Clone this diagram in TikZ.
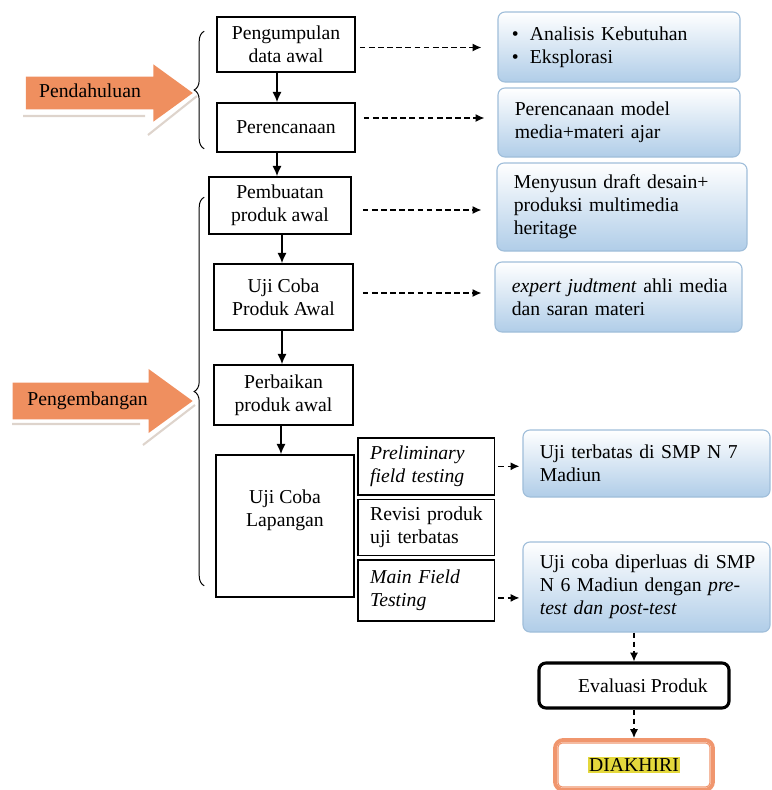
\documentclass[tikz,border=0pt]{standalone}
\usepackage{fontspec}
\setmainfont{Liberation Serif}
\usepackage{tikz}
\usetikzlibrary{calc,positioning,shapes.arrows}
\usetikzlibrary{decorations.pathreplacing}
\usetikzlibrary{arrows.meta}
\definecolor{arroworange}{RGB}{239,143,95}
\definecolor{shadowgrey}{RGB}{222,212,204}
\definecolor{boxblue}{RGB}{176,205,232}
\definecolor{boxedge}{RGB}{160,190,218}
\definecolor{endorange}{RGB}{240,150,110}
\definecolor{hlyellow}{RGB}{228,216,60}
\tikzstyle{every node}=[line width=1.1pt]
\tikzset{>={Latex[width=2.3mm,length=2.6mm]}}
\tikzset{stepbox/.style = {draw, fill=white, rectangle, align=center,
                  minimum width=3.45cm},
        subbox/.style = {draw, fill=white, rectangle, align=left,
                  text width=2.8cm, inner xsep=0.31cm},
        notebox/.style = {draw=boxedge, line width=0.8pt, rounded corners=5pt, top color=white,
                  bottom color=boxblue, align=left, text width=5.21cm, inner xsep=0.42cm},
        dasharrow/.style = {->, dash pattern=on 4pt off 2.5pt, line width=0.9pt,
                  >={Latex[width=2mm,length=2.2mm]}}
    }

\begin{document}
\begin{tikzpicture}[x=0.025cm, y=-0.025cm, font=\fontsize{14}{16.4}\selectfont]
    \tikzstyle{bigarrow} = [single arrow, fill=arroworange, single arrow tip angle=72,
        text height=10pt, text depth=3pt, inner ysep=2.5pt, inner xsep=0pt]
    \tikzstyle{brace} = [decorate, decoration={brace, amplitude=0.25cm}, line width=0.7pt]
    \useasboundingbox (0,0) rectangle (771,790);

    % left column
    \node[stepbox, minimum height=1.375cm] (pengumpulan) at (286,44.5) {Pengumpulan\\data awal};
    \node[stepbox, minimum height=1.225cm] (perencanaan) at (286,127.5) {Perencanaan};
    \node[stepbox, minimum width=3.55cm, minimum height=1.425cm] (pembuatan) at (280,205.5) {Pembuatan\\produk awal};
    \node[stepbox, minimum width=3.475cm, minimum height=1.65cm] (ujicoba) at (283.5,297) {Uji Coba\\Produk Awal};
    \node[stepbox, minimum width=3.475cm, minimum height=1.5cm] (perbaikan) at (283.5,395) {Perbaikan\\produk awal};
    \node[stepbox, minimum height=3.55cm] (lapangan) at (285,526) {};
    \node[align=center] (lapangantxt) at ($(lapangan.north)+(0,56)$) {Uji Coba\\Lapangan};

    \draw[->, line width=1pt] ($(pengumpulan.south)+(-9,0)$) -- ($(perencanaan.north)+(-9,0)$);
    \draw[->, line width=1pt] ($(perencanaan.south)+(-9,0)$) -- ($(pembuatan.north)+(-3,0)$);
    \draw[->, line width=1pt] ($(pembuatan.south)+(2,0)$) -- ($(ujicoba.north)+(-1.5,0)$);
    \draw[->, line width=1pt] ($(ujicoba.south)+(-1.5,0)$) -- ($(perbaikan.north)+(-1.5,0)$);
    \draw[->, line width=1pt] ($(perbaikan.south)+(-2.5,0)$) -- ($(lapangan.north)+(-4,0)$);

    % field testing steps
    \node[subbox, minimum height=1.425cm, anchor=north west] (prelim) at (357,437) {\textit{Preliminary}\\\textit{field testing}};
    \node[subbox, minimum height=1.4cm, below=0.075cm of prelim] (revisi) {\mbox{Revisi produk}\\uji terbatas};
    \node[subbox, minimum height=1.525cm, below=0.075cm of revisi] (mainfield) {\textit{Main Field}\\\textit{Testing}};

    % notes
    \node[notebox, minimum height=1.75cm, text width=5.35cm, inner xsep=0.35cm] (analisis) at (619,47)
        {\makebox[0.45cm][l]{\textbullet}Analisis Kebutuhan\\\makebox[0.45cm][l]{\textbullet}Eksplorasi};
    \node[notebox, minimum height=1.725cm] (rencanamodel) at (619,122.5) {Perencanaan model\\media+materi ajar};
    \node[notebox, minimum height=2.2cm, text width=5.41cm] (draft) at (622,207) {Menyusun draft desain+\\produksi multimedia\\heritage};
    \node[notebox, minimum height=1.75cm, text width=5.335cm] (expert) at (618.5,297) {\mbox{\textit{expert judtment} ahli media}\\dan saran materi};
    \node[notebox, minimum height=1.675cm, text width=5.335cm] (ujiterbatas) at (646.5,463.5) {Uji terbatas di SMP N 7\\Madiun};
    \node[notebox, minimum height=2.25cm, text width=5.335cm] (diperluas) at (646.5,587) {\mbox{Uji coba diperluas di SMP}\\\mbox{N 6 Madiun dengan \textit{pre-}}\\\textit{test dan post-test}};

    \draw[dasharrow] ($(pengumpulan.east)+(4,3)$) -- ($(analisis.west |- pengumpulan.east)+(-16,3)$);
    \draw[dasharrow] ($(perencanaan.east)+(8,-9.5)$) -- ($(rencanamodel.west |- perencanaan.east)+(-13,-9.5)$);
    \draw[dasharrow] ($(pembuatan.east)+(11,4.5)$) -- ($(draft.west |- pembuatan.east)+(-15,4.5)$);
    \draw[dasharrow] ($(ujicoba.east)+(9,-4)$) -- ($(expert.west |- ujicoba.east)+(-13,-4)$);
    \draw[dasharrow] ($(prelim.east)+(3,0)$) -- ($(ujiterbatas.west |- prelim.east)+(-3,0)$);
    \draw[dasharrow] ($(mainfield.east)+(3,7.5)$) -- ($(diperluas.west |- mainfield.east)+(-3,7.5)$);

    % end of the flow
    \node[draw, line width=2.2pt, rounded corners=5pt, minimum width=4.75cm, minimum height=1.125cm] (evaluasi) at (634,685.5)
        {\hspace*{0.45cm}Evaluasi Produk};
    \node[draw=endorange, line width=2.8pt, rounded corners=6pt, minimum width=3.95cm, minimum height=1.25cm] (diakhiri) at (634,765)
        {\setlength{\fboxsep}{1pt}\colorbox{hlyellow}{DIAKHIRI}};
    \draw[endorange, line width=0.8pt, rounded corners=3pt] ($(diakhiri.north west)+(5,5)$) rectangle ($(diakhiri.south east)+(-5,-5)$);

    \draw[dasharrow] (diperluas.south -| evaluasi.north) -- (evaluasi.north);
    \draw[dasharrow] (evaluasi.south) -- (diakhiri.north);

    % phases
    \draw[shadowgrey, line width=1.5pt] (23,116) -- (145,116) (148,135) -- (197,96);
    \draw[shadowgrey, line width=1.5pt] (12,424) -- (140,424) (143,445) -- (195,405);
    \node[bigarrow, minimum height=4.175cm, minimum width=1.43cm] (pendahuluan) at (98,93) {Pendahuluan\hspace*{0.4cm}};
    \node[bigarrow, minimum height=4.5cm, minimum width=1.6cm] (pengembangan) at (90,401) {Pengembangan\hspace*{0.12cm}};

    \draw[brace] ($(perencanaan.south west)+(-12,-4)$) -- ($(pengumpulan.north west)+(-12,15)$);
    \draw[brace] ($(lapangan.south west)+(-11,-12)$) -- ($(pembuatan.north west)+(-4,21)$);
\end{tikzpicture}
\end{document}
